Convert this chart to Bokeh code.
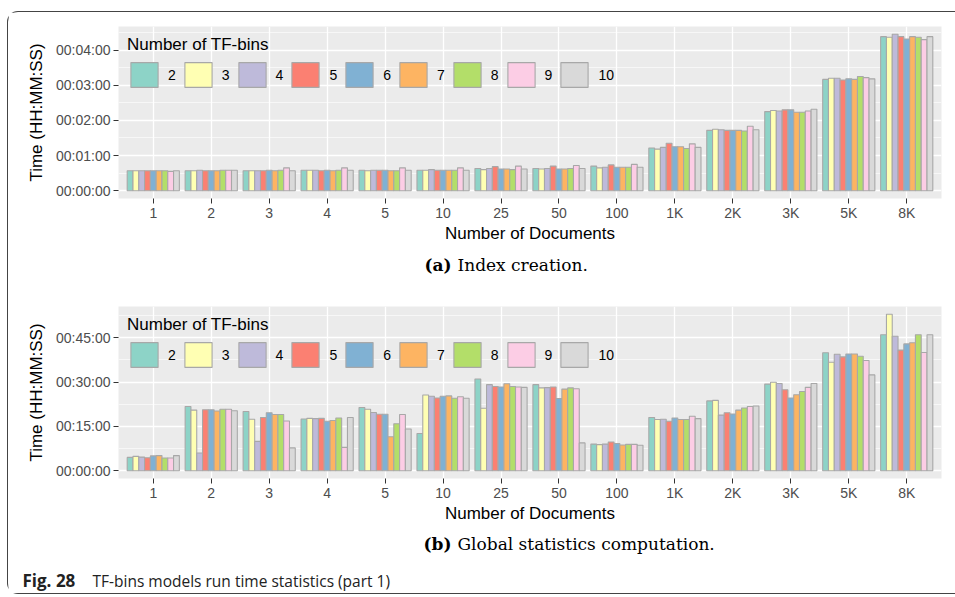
from bokeh.plotting import figure
from bokeh.models import (FactorRange, Range1d, FixedTicker, Legend, LegendItem,
                          Label, ColumnDataSource)
from bokeh.transform import dodge
from bokeh.layouts import column
from bokeh.embed import file_html
from bokeh.resources import INLINE

# ---------------- data ----------------
docs = ["1", "2", "3", "4", "5", "10", "25", "50", "100", "1K", "2K", "3K", "5K", "8K"]
bins = ["2", "3", "4", "5", "6", "7", "8", "9", "10"]
bin_colors = ["#8DD3C7", "#FFFFB3", "#BEBADA", "#FB8072", "#80B1D3",
              "#FDB462", "#B3DE69", "#FCCDE5", "#D9D9D9"]

# (a) Index creation, time in seconds
index_b2 = [34, 34, 34, 35, 35, 35, 38, 38, 42, 73, 103, 135, 190, 263]
index_b3 = [34, 34, 34, 35, 34, 35, 36, 37, 39, 71, 105, 137, 192, 262]
index_b4 = [34, 35, 34, 35, 35, 36, 38, 38, 40, 74, 104, 136, 192, 267]
index_b5 = [34, 34, 34, 34, 35, 35, 41, 42, 44, 81, 103, 138, 189, 263]
index_b6 = [34, 34, 35, 35, 35, 35, 37, 37, 40, 75, 103, 138, 191, 259]
index_b7 = [34, 34, 34, 34, 34, 35, 37, 37, 40, 75, 103, 134, 190, 263]
index_b8 = [34, 35, 35, 35, 34, 35, 36, 38, 40, 72, 102, 134, 195, 262]
index_b9 = [33, 35, 39, 39, 39, 39, 42, 43, 45, 80, 110, 136, 193, 258]
index_b10 = [34, 35, 34, 35, 35, 35, 37, 38, 40, 74, 104, 139, 191, 263]

# (b) Global statistics computation, time in minutes
global_b2 = [4.5, 21.7, 20.0, 17.5, 21.4, 12.6, 31.0, 29.1, 9.0, 18.0, 23.6, 29.3, 39.9, 46.0]
global_b3 = [4.85, 20.5, 17.4, 17.7, 20.8, 25.6, 21.1, 28.0, 8.8, 17.3, 23.8, 29.9, 36.7, 52.9]
global_b4 = [4.6, 6.0, 9.9, 17.6, 19.7, 25.2, 29.1, 28.1, 9.0, 17.4, 18.8, 29.5, 39.4, 45.5]
global_b5 = [4.4, 20.6, 18.0, 17.7, 19.1, 24.6, 28.5, 28.3, 9.7, 16.7, 19.6, 27.4, 38.5, 40.8]
global_b6 = [5.0, 20.6, 19.6, 16.7, 19.1, 25.2, 28.3, 24.4, 9.2, 17.8, 19.2, 24.6, 39.5, 42.9]
global_b7 = [5.1, 20.2, 19.0, 17.0, 11.5, 25.3, 29.4, 27.6, 8.7, 17.3, 20.5, 25.7, 39.5, 43.3]
global_b8 = [4.3, 20.8, 19.0, 17.8, 15.9, 24.5, 28.5, 28.0, 8.9, 17.3, 21.2, 26.8, 38.7, 46.0]
global_b9 = [4.3, 20.8, 16.8, 7.9, 19.0, 25.0, 28.3, 27.7, 8.9, 18.4, 21.7, 28.2, 37.3, 40.0]
global_b10 = [5.1, 20.3, 7.7, 18.0, 14.1, 24.5, 28.2, 9.4, 8.6, 17.6, 21.9, 29.5, 32.4, 46.0]

index_ticks = [0, 60, 120, 180, 240]
index_minor = [30, 90, 150, 210, 270]
index_labels = ["00:00:00", "00:01:00", "00:02:00", "00:03:00", "00:04:00"]

global_ticks = [0, 15, 30, 45]
global_minor = [7.5, 22.5, 37.5, 52.5]
global_labels = ["00:00:00", "00:15:00", "00:30:00", "00:45:00"]

index_series = [index_b2, index_b3, index_b4, index_b5, index_b6,
                index_b7, index_b8, index_b9, index_b10]
global_series = [global_b2, global_b3, global_b4, global_b5, global_b6,
                 global_b7, global_b8, global_b9, global_b10]

SANS = "Liberation Sans"
SERIF = "DejaVu Serif"
W = 947


def make_panel(series, ticks, minor, labels, height, top, bottom):
    ymax = max(max(s) for s in series)
    pad = 0.05 * ymax
    p = figure(width=W, height=height, output_backend="svg", toolbar_location=None,
               x_range=FactorRange(factors=docs, range_padding=0.1,
                                   range_padding_units="absolute"),
               y_range=Range1d(-pad, ymax + pad),
               min_border_left=110, min_border_right=14,
               min_border_top=top, min_border_bottom=bottom)
    p.background_fill_color = "#EBEBEB"
    p.border_fill_color = "white"
    p.outline_line_color = None

    n = len(series)
    bw = 0.9 / n
    items = []
    for i, (vals, col, b) in enumerate(zip(series, bin_colors, bins)):
        src = ColumnDataSource(dict(doc=docs, t=vals))
        off = -0.45 + bw * (i + 0.5)
        r = p.vbar(x=dodge("doc", off, range=p.x_range), top="t", bottom=0,
                   width=bw, source=src, fill_color=col,
                   line_color="#A8A8A8", line_width=1.1)
        items.append(LegendItem(label=b, renderers=[r]))

    leg = Legend(items=items, location="top_left", orientation="horizontal",
                 title="Number of TF-bins", title_text_font=SANS,
                 title_text_font_size="17px", title_text_font_style="normal",
                 title_text_color="black", title_standoff=4,
                 label_text_font=SANS, label_text_font_size="14px",
                 label_text_color="black",
                 glyph_width=34, glyph_height=31, label_standoff=7,
                 label_width=7, spacing=5, padding=0, margin=9,
                 background_fill_alpha=0, border_line_color=None)
    p.add_layout(leg)

    p.yaxis.ticker = FixedTicker(ticks=ticks, minor_ticks=minor)
    p.yaxis.major_label_overrides = {t: l for t, l in zip(ticks, labels)}
    for ax in (p.xaxis, p.yaxis):
        ax.axis_line_color = None
        ax.major_tick_line_color = "#333333"
        ax.major_tick_out = 5
        ax.major_tick_in = 0
        ax.minor_tick_line_color = None
        ax.major_label_text_font = SANS
        ax.major_label_text_font_size = "14px"
        ax.major_label_text_color = "#4D4D4D"
        ax.axis_label_text_font = SANS
        ax.axis_label_text_font_size = "17px"
        ax.axis_label_text_font_style = "normal"
        ax.axis_label_text_color = "black"
    p.yaxis.major_label_standoff = 3
    p.yaxis.axis_label = "Time (HH:MM:SS)"
    p.yaxis.axis_label_standoff = 7
    p.xaxis.major_label_standoff = 1
    p.xaxis.axis_label = "Number of Documents"
    p.xaxis.axis_label_standoff = 0

    p.xgrid.grid_line_color = "white"
    p.xgrid.grid_line_width = 1.3
    p.ygrid.grid_line_color = "white"
    p.ygrid.grid_line_width = 1.3
    p.ygrid.minor_grid_line_color = "white"
    p.ygrid.minor_grid_line_width = 0.6
    return p


def text_strip(height):
    c = figure(width=W, height=height, output_backend="svg", toolbar_location=None,
               x_range=Range1d(0, W), y_range=Range1d(0, height),
               x_axis_type=None, y_axis_type=None, min_border=0)
    c.frame_align = False
    c.outline_line_color = None
    c.background_fill_color = "white"
    c.border_fill_color = "white"
    c.grid.visible = False
    return c


def label(c, text, x, y, font, size, style, align="left", color="black"):
    c.add_layout(Label(x=x, y=y, x_units="screen", y_units="screen", text=text,
                       text_align=align, text_baseline="alphabetic",
                       text_font=font, text_font_size=size,
                       text_font_style=style, text_color=color))


p1 = make_panel(index_series, index_ticks, index_minor, index_labels,
                height=238, top=14, bottom=52)
cap_a = text_strip(35)
label(cap_a, "(a)", 443, 21, SERIF, "17px", "bold", align="right")
label(cap_a, "Index creation.", 449, 21, SERIF, "17px", "normal")

p2 = make_panel(global_series, global_ticks, global_minor, global_labels,
                height=240, top=21, bottom=47)
cap_b = text_strip(68)
label(cap_b, "(b)", 443, 50, SERIF, "17px", "bold", align="right")
label(cap_b, "Global statistics computation.", 449, 50, SERIF, "17px", "normal")
label(cap_b, "Fig. 28", 14, 13, "Open Sans", "17px", "bold", color="#222222")
label(cap_b, "TF-bins models run time statistics (part 1)", 84, 13,
      "Open Sans", "15.5px", "normal", color="#222222")

layout = column(p1, cap_a, p2, cap_b, margin=(11, 0, 0, 7),
                styles={"border-top": "1px solid #444444",
                        "border-left": "1px solid #444444",
                        "border-bottom": "1px solid #444444",
                        "border-radius": "11px 0 0 11px"})

open("out.html", "w").write(file_html(layout, INLINE))
